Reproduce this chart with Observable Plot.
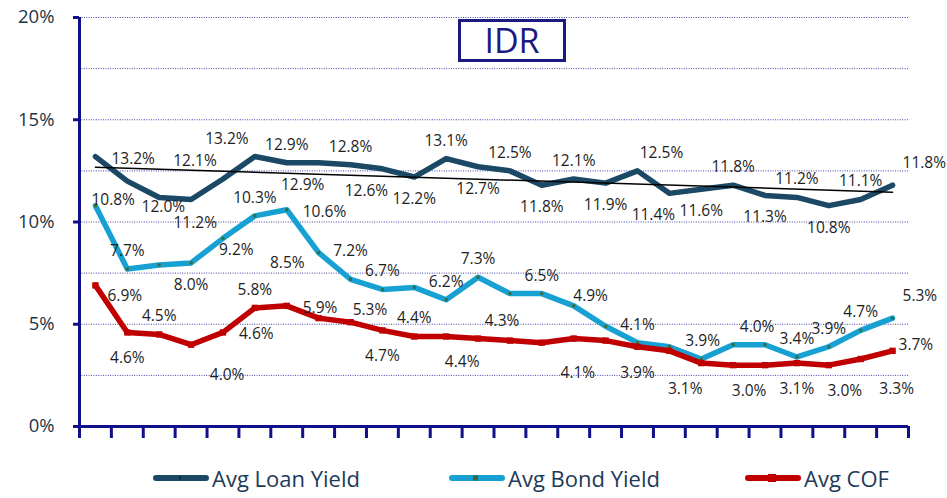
<!DOCTYPE html>
<html><head><meta charset="utf-8">
<script src="https://cdn.jsdelivr.net/npm/d3@7"></script>
<script src="https://cdn.jsdelivr.net/npm/@observablehq/plot@0.6"></script>
<style>
body{margin:0;background:#fff;font-family:"Open Sans",sans-serif;}
#wrap{position:relative;width:947px;height:498px;overflow:hidden;}
#title{position:absolute;left:458px;top:19px;width:102px;height:37px;border:3px solid #1a1a80;background:#fff;color:#1a1a80;font-size:34px;line-height:37px;text-align:center;}
#legend{position:absolute;left:152px;top:458px;height:40px;display:flex;align-items:center;color:#1c3a57;font-size:22px;}
#legend .item{display:flex;align-items:center;gap:2px;width:296px;}
#legend .item:last-child{width:auto;}
</style></head><body>
<div id="wrap"><div id="chart"></div><div id="legend"></div><div id="title">IDR</div></div>
<script>
// ---- data ----
const seriesNames = ["Avg Loan Yield", "Avg Bond Yield", "Avg COF"];
const loanYield   = [13.2, 12.0, 11.2, 11.1, 12.1, 13.2, 12.9, 12.9, 12.8, 12.6, 12.2, 13.1, 12.7, 12.5, 11.8, 12.1, 11.9, 12.5, 11.4, 11.6, 11.8, 11.3, 11.2, 10.8, 11.1, 11.8];
const bondYield   = [10.8, 7.7, 7.9, 8.0, 9.2, 10.3, 10.6, 8.5, 7.2, 6.7, 6.8, 6.2, 7.3, 6.5, 6.5, 5.9, 4.9, 4.1, 3.9, 3.3, 4.0, 4.0, 3.4, 3.9, 4.7, 5.3];
const costOfFunds = [6.9, 4.6, 4.5, 4.0, 4.6, 5.8, 5.9, 5.3, 5.1, 4.7, 4.4, 4.4, 4.3, 4.2, 4.1, 4.3, 4.2, 3.9, 3.7, 3.1, 3.0, 3.0, 3.1, 3.0, 3.3, 3.7];
const loanLabels  = ["13.2%","12.0%","11.2%",null,"12.1%","13.2%","12.9%","12.9%","12.8%","12.6%","12.2%","13.1%","12.7%","12.5%","11.8%","12.1%","11.9%","12.5%","11.4%","11.6%","11.8%","11.3%","11.2%","10.8%","11.1%","11.8%"];
const bondLabels  = ["10.8%","7.7%",null,"8.0%","9.2%","10.3%","10.6%","8.5%","7.2%","6.7%",null,"6.2%","7.3%",null,"6.5%",null,"4.9%","4.1%","3.9%",null,"4.0%",null,"3.4%","3.9%","4.7%","5.3%"];
const cofLabels   = ["6.9%","4.6%","4.5%","4.0%","4.6%","5.8%","5.9%","5.3%",null,"4.7%","4.4%","4.4%","4.3%",null,"4.1%",null,null,"3.9%",null,"3.1%","3.0%",null,"3.1%","3.0%","3.3%","3.7%"];
const yTicks = [0, 5, 10, 15, 20];
const gridStep = 2.5;

// ---- data-label layout (side of the point each label sits on, as in the reference) ----
const loanSide = ["r","br","br",null,"al","al","a","bl","a","bl","b","a","b","a","b","a","b","ar","bl","b","a","b","a","b","a","rt"];
const bondSide = ["s","a",null,"b","bs","a","r","lb","aa","a",null,"a","a",null,"a",null,"ah","a","ru",null,"ar",null,"a","a","a","rt"];
const cofSide  = ["rb","b","a","br","r","a","r","rf",null,"b","a","bq","ar",null,"br",null,null,"b",null,"bl","bq",null,"b","bq","br","rr"];
const sideOffsets = {
  a: [0, -18, "middle"], aa: [0, -28, "middle"], al: [-28, -18, "middle"], ar: [24, -18, "middle"], ah: [-15, -30, "middle"],
  b: [0, 22, "middle"], bl: [-16, 22, "middle"], bq: [16, 22, "middle"], br: [36, 26, "middle"],
  r: [16, 2, "start"], rt: [10, -22, "start"], rb: [12, 11, "start"], rr: [6, -6, "start"],
  s: [-4, -6, "start"], ru: [16, -6, "start"], bs: [-4, 12, "start"], lb: [-14, 10, "end"], rf: [34, -8, "start"]
};

// ---- build ----
const n = loanYield.length;
const rows = d3.range(n).map(i => ({i, loan: loanYield[i], bond: bondYield[i], cof: costOfFunds[i]}));
const navy = "#10108a";
const series = [
  {key: "loan", name: seriesNames[0], labels: loanLabels, side: loanSide, color: "#1b4865", belowExtra: 0},
  {key: "bond", name: seriesNames[1], labels: bondLabels, side: bondSide, color: "#17a1d3", belowExtra: 0},
  {key: "cof",  name: seriesNames[2], labels: cofLabels,  side: cofSide,  color: "#c00000", belowExtra: 4}
];

const labelMarks = [];
for (const s of series) {
  const pts = rows.filter(r => s.labels[r.i] != null && s.side[r.i] != null)
    .map(r => ({...r, text: s.labels[r.i], side: s.side[r.i]}));
  for (const [code, group] of d3.group(pts, p => p.side)) {
    const [dx, dy0, anchor] = sideOffsets[code];
    const dy = dy0 > 15 ? dy0 + s.belowExtra : dy0;
    labelMarks.push(Plot.text(group, {x: "i", y: s.key, text: "text", dx, dy, textAnchor: anchor,
      fontSize: 15.5, fill: "#1e1e1e", fontFamily: "Open Sans"}));
  }
}

const chart = Plot.plot({
  width: 947, height: 455,
  marginLeft: 79, marginRight: 39, marginTop: 17, marginBottom: 29,
  style: {fontFamily: "Open Sans", background: "white", overflow: "visible"},
  x: {domain: [-0.5, n - 0.5], axis: null},
  y: {domain: [0, 20], axis: null},
  marks: [
    Plot.ruleY(d3.range(gridStep, 20 + 0.001, gridStep), {stroke: "#2c2ca0", strokeWidth: 1, strokeDasharray: "1,1.4", strokeOpacity: 0.9}),
    Plot.axisY({ticks: yTicks, tickSize: 6, tickPadding: 19, tickFormat: d => `${d}%`, stroke: navy, strokeWidth: 3, fill: "#1c3547", fontSize: 18.5, label: null}),
    Plot.axisX({ticks: d3.range(-0.5, n, 1), tickSize: 12, tickFormat: () => "", stroke: navy, strokeWidth: 3, label: null}),
    Plot.ruleX([-0.5], {stroke: navy, strokeWidth: 3}),
    Plot.ruleY([0], {stroke: navy, strokeWidth: 3}),
    Plot.lineY(rows, {x: "i", y: "loan", stroke: series[0].color, strokeWidth: 5.5, strokeLinejoin: "round"}),
    Plot.lineY(rows, {x: "i", y: "bond", stroke: series[1].color, strokeWidth: 5.5, strokeLinejoin: "round"}),
    Plot.dot(rows, {x: "i", y: "bond", symbol: "square", r: 1.7, fill: "#3a6b3a"}),
    Plot.lineY(rows, {x: "i", y: "cof", stroke: series[2].color, strokeWidth: 5.5, strokeLinejoin: "round"}),
    Plot.dot(rows, {x: "i", y: "cof", symbol: "square", r: 3.6, fill: series[2].color}),
    Plot.linearRegressionY(rows, {x: "i", y: "loan", stroke: "black", strokeWidth: 1.5, ci: 0}),
    ...labelMarks
  ]
});
document.getElementById("chart").appendChild(chart);

// legend
const legend = document.getElementById("legend");
for (const s of series) {
  const item = document.createElement("div");
  item.className = "item";
  const marker = s.key === "bond" ? `<rect x="25" y="4.5" width="5" height="5" fill="#3a6b3a"/>`
    : s.key === "cof" ? `<rect x="24" y="3" width="8" height="8" fill="${s.color}"/>`
    : `<rect x="27" y="5.5" width="2" height="3" fill="#0e2c40"/>`;
  item.innerHTML = `<svg width="58" height="14"><line x1="4" y1="7" x2="54" y2="7" stroke="${s.color}" stroke-width="6" stroke-linecap="round"/>${marker}</svg><span>${s.name}</span>`;
  legend.appendChild(item);
}
</script>
</body></html>
